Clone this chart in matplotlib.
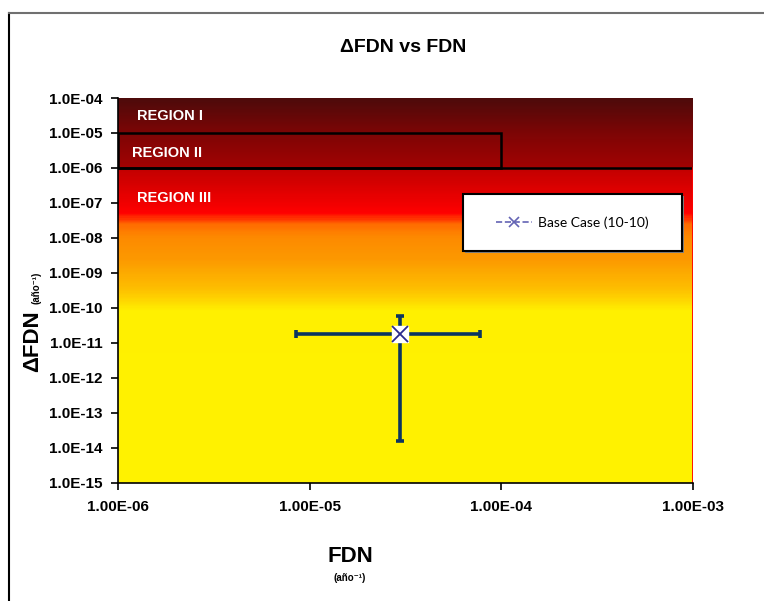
import matplotlib
matplotlib.use('Agg')
import matplotlib.pyplot as plt
import numpy as np
from matplotlib.colors import LinearSegmentedColormap
from matplotlib.patches import Rectangle
from matplotlib.lines import Line2D

plt.rcParams['font.family'] = ['Liberation Sans', 'DejaVu Sans']

# datos
fdn = [2.95e-5]
dfdn = [1.8e-11]
fdn_min = [8.5e-6]
fdn_max = [7.7e-5]
dfdn_min = [1.6e-14]
dfdn_max = [5.8e-11]
serie = 'Base Case (10-10)'

# límites de regiones
region_I_II = 1e-5
region_II_III = 1e-6
region_II_fdn = 1e-4
regiones = ['REGION I', 'REGION II', 'REGION III']

xticks = [1e-6, 1e-5, 1e-4, 1e-3]
xlabels = ['1.00E-06', '1.00E-05', '1.00E-04', '1.00E-03']
yticks = [10.0 ** e for e in range(-15, -3)]
ylabels = ['1.0E%+03d' % e for e in range(-15, -3)]

fig = plt.figure(figsize=(7.64, 6.01), dpi=100)
W, H = 764, 601
ax = fig.add_axes([118 / W, (H - 483) / H, 575 / W, 385 / H])
ax.set_xscale('log')
ax.set_yscale('log')
ax.set_xlim(1e-6, 1e-3)
ax.set_ylim(1e-15, 1e-4)

# fondo degradado
cmap_top = LinearSegmentedColormap.from_list('top', [
    (0.0, '#a20202'), (0.5, '#7c0505'), (1.0, '#4c0a0a')])
cmap_bot = LinearSegmentedColormap.from_list('bot', [
    (0.0, '#fff200'), (0.544, '#fff000'), (0.611, '#fdc000'), (0.711, '#fc9800'),
    (0.778, '#fd8a00'), (0.822, '#ff6a00'), (0.856, '#ff0000'), (1.0, '#c00000')])
ye = np.logspace(-6, -4, 120)
xe = np.array([1e-6, 1e-3])
ax.pcolormesh(xe, ye, np.log10(ye[:-1]).reshape(-1, 1), cmap=cmap_top,
              vmin=-6, vmax=-4, shading='flat', zorder=0, rasterized=True)
ye = np.logspace(-15, -6, 300)
ax.pcolormesh(xe, ye, np.log10(ye[:-1]).reshape(-1, 1), cmap=cmap_bot,
              vmin=-15, vmax=-6, shading='flat', zorder=0, rasterized=True)

# bordes de regiones
ax.add_patch(Rectangle((1e-6, region_II_III), region_II_fdn - 1e-6,
                       region_I_II - region_II_III, fill=False,
                       edgecolor='black', lw=1.8, zorder=2))
ax.plot([1e-6, 1e-3], [region_II_III, region_II_III], color='black', lw=1.8, zorder=2)
ax.plot([1e-3, 1e-3], [1e-15, region_II_III], color='#ff0000', lw=2, zorder=2)

ax.text(1.25e-6, 3.0e-5, regiones[0], color='white', fontsize=10.5,
        fontweight='bold', va='center')
ax.text(1.18e-6, 2.6e-6, regiones[1], color='white', fontsize=10.5,
        fontweight='bold', va='center')
ax.text(1.25e-6, 1.35e-7, regiones[2], color='white', fontsize=10.5,
        fontweight='bold', va='center')

# punto con barras de error
xerr = [[fdn[0] - fdn_min[0]], [fdn_max[0] - fdn[0]]]
yerr = [[dfdn[0] - dfdn_min[0]], [dfdn_max[0] - dfdn[0]]]
ax.errorbar(fdn, dfdn, xerr=xerr, yerr=yerr, fmt='none', ecolor='#0b3560',
            elinewidth=2.6, capsize=3, capthick=2.6, zorder=3)
ax.plot(fdn, dfdn, marker='s', ms=12, mfc='white', mec='white', ls='none', zorder=4)
ax.plot(fdn, dfdn, marker='x', ms=11, mew=1.3, color='#2a2a8c', ls='none', zorder=5)

# leyenda
lx0, ly0 = (463 - 118) / 575, (483 - 251) / 385
lw_, lh_ = (682 - 463) / 575, (251 - 194) / 385
ax.add_patch(Rectangle((lx0 + 0.004, ly0 - 0.006), lw_, lh_, transform=ax.transAxes,
                       facecolor='#808080', edgecolor='none', zorder=5))
ax.add_patch(Rectangle((lx0, ly0), lw_, lh_, transform=ax.transAxes,
                       facecolor='white', edgecolor='black', lw=1.5, zorder=6))
handle = Line2D([], [], color='#6464b4', ls='--', marker='x', ms=7, mew=1.2, lw=1.2)
leg = ax.legend([handle], [serie], loc='center',
                bbox_to_anchor=(lx0 + lw_ / 2, ly0 + lh_ / 2), frameon=False,
                prop={'family': ['Lato', 'DejaVu Sans'], 'size': 10},
                handlelength=2.6, handletextpad=0.4)
leg.set_zorder(7)

# ejes
for s in ['top', 'right']:
    ax.spines[s].set_visible(False)
ax.spines['left'].set_linewidth(1.2)
ax.spines['bottom'].set_linewidth(1.2)
ax.xaxis.set_major_locator(matplotlib.ticker.FixedLocator(xticks))
ax.xaxis.set_major_formatter(matplotlib.ticker.FixedFormatter(xlabels))
ax.yaxis.set_major_locator(matplotlib.ticker.FixedLocator(yticks))
ax.yaxis.set_major_formatter(matplotlib.ticker.FixedFormatter(ylabels))
ax.xaxis.set_minor_locator(matplotlib.ticker.NullLocator())
ax.yaxis.set_minor_locator(matplotlib.ticker.NullLocator())
ax.tick_params(axis='both', direction='out', length=5, width=1.2, labelsize=11)
ax.tick_params(axis='x', pad=7)
ax.tick_params(axis='y', pad=6)
for t in ax.get_xticklabels() + ax.get_yticklabels():
    t.set_fontweight('bold')

# títulos
fig.text(403 / W, 1 - 47 / H, 'ΔFDN vs FDN', ha='center', va='center',
         fontsize=14, fontweight='bold')
fig.text(33 / W, 1 - 341 / H, 'ΔFDN', ha='center', va='center', rotation=90,
         fontsize=16, fontweight='bold')
fig.text(37 / W, 1 - 288 / H, '(año⁻¹)', ha='center', va='center', rotation=90,
         fontsize=7, fontweight='bold')
fig.text(350 / W, 1 - 557 / H, 'FDN', ha='center', va='center',
         fontsize=16, fontweight='bold')
fig.text(350 / W, 1 - 578 / H, '(año⁻¹)', ha='center', va='center',
         fontsize=7, fontweight='bold')

# marco de la figura
fig.add_artist(Line2D([9 / W, 9 / W], [0, 1 - 13 / H], color='black', lw=1.5,
                      transform=fig.transFigure))
fig.add_artist(Line2D([9 / W, 1], [1 - 13 / H, 1 - 13 / H], color='#707070', lw=1.5,
                      transform=fig.transFigure))

fig.savefig('out.png', dpi=100)
